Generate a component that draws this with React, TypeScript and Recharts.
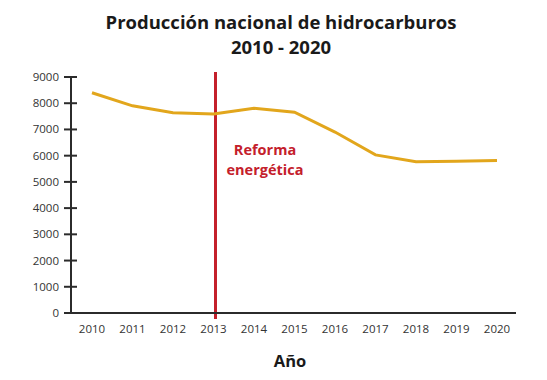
import { CartesianGrid, Line, LineChart, ReferenceLine, XAxis, YAxis } from "recharts";

const years = ["2010", "2011", "2012", "2013", "2014", "2015", "2016", "2017", "2018", "2019", "2020"];
const production = [8400, 7900, 7640, 7590, 7810, 7660, 6900, 6030, 5770, 5790, 5820];
const yTicks = [0, 1000, 2000, 3000, 4000, 5000, 6000, 7000, 8000, 9000];
const reformYear = "2013";

const data = years.map((year, i) => ({ year, value: production[i] }));

const font = "'Open Sans', 'Noto Sans', sans-serif";
const axisColor = "#2b2b2b";
const lineColor = "#E2A61C";
const red = "#C4202B";

function YTick(props: any) {
  const { x, y, payload } = props;
  return (
    <g>
      <line x1={x - 7} x2={x + 6} y1={y} y2={y} stroke={axisColor} strokeWidth={2} />
      <text x={x - 12} y={y} dy="0.35em" textAnchor="end" fontSize={11.5} fill="#333" fontFamily={font}>
        {payload.value}
      </text>
    </g>
  );
}

// the red marker pokes a little past the plot area at both ends
function RedLine(props: any) {
  const { x1, y1, y2 } = props;
  const top = Math.min(y1, y2);
  const bottom = Math.max(y1, y2);
  const x = Math.round(x1) + 1.5;
  return <line x1={x} x2={x} y1={top - 5} y2={bottom + 6} stroke={red} strokeWidth={3} />;
}

export default function App() {
  return (
    <div style={{ position: "absolute", left: 0, top: 0, width: 547, height: 380, background: "#fff", fontFamily: font }}>
      <div
        style={{
          position: "absolute",
          left: 0,
          width: 562,
          top: 9,
          textAlign: "center",
          fontWeight: 700,
          fontSize: 18.5,
          lineHeight: "25px",
          color: "#1a1a1a",
        }}
      >
        Producción nacional de hidrocarburos
        <br />
        2010 - 2020
      </div>
      <LineChart width={547} height={380} data={data} margin={{ top: 77, right: 31, bottom: 37, left: 0 }}>
        <CartesianGrid stroke="none" />
        <XAxis
          dataKey="year"
          padding={{ left: 21, right: 19 }}
          axisLine={{ stroke: axisColor, strokeWidth: 2 }}
          tickLine={false}
          tickSize={0}
          tickMargin={12}
          height={30}
          tick={{ fontSize: 11.5, fill: "#333", fontFamily: font }}
          interval={0}
        />
        <YAxis
          domain={[0, 9000]}
          ticks={yTicks}
          width={71}
          axisLine={{ stroke: axisColor, strokeWidth: 2 }}
          tickLine={false}
          tickSize={0}
          tickMargin={0}
          tick={<YTick />}
          interval={0}
        />
        <ReferenceLine x={reformYear} stroke={red} strokeWidth={3} shape={<RedLine />} />
        <Line
          type="linear"
          dataKey="value"
          stroke={lineColor}
          strokeWidth={3}
          dot={false}
          isAnimationActive={false}
        />
      </LineChart>
      <div
        style={{
          position: "absolute",
          left: 215,
          width: 100,
          top: 140,
          textAlign: "center",
          color: red,
          fontWeight: 700,
          fontSize: 14.5,
          lineHeight: "20px",
        }}
      >
        Reforma
        <br />
        energética
      </div>
      <div
        style={{
          position: "absolute",
          left: 240,
          width: 100,
          top: 349,
          textAlign: "center",
          color: "#1a1a1a",
          fontWeight: 700,
          fontSize: 16.5,
        }}
      >
        Año
      </div>
    </div>
  );
}
